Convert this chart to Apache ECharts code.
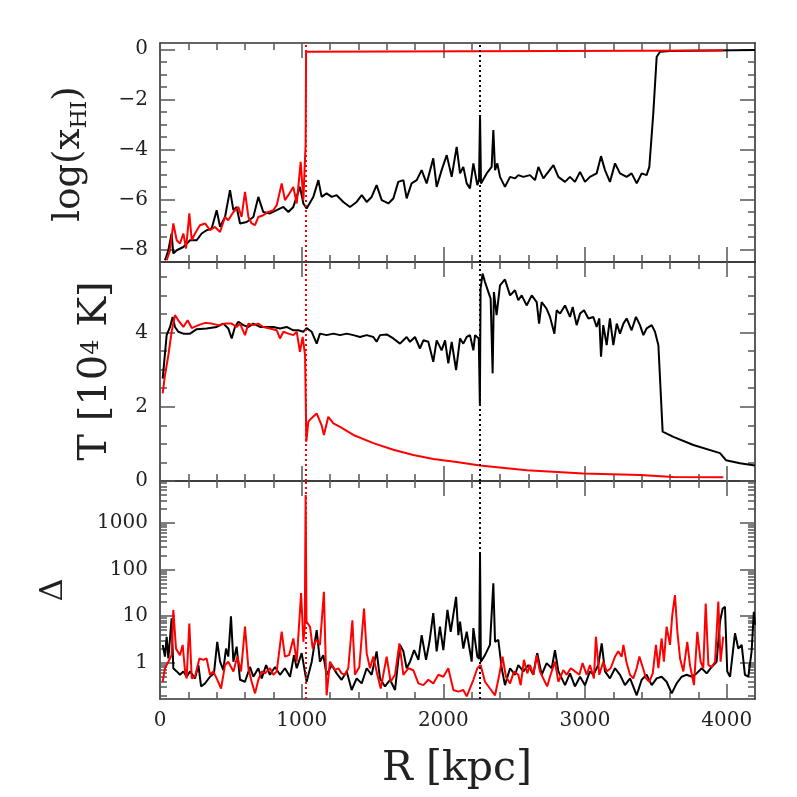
<!DOCTYPE html>
<html>
<head>
<meta charset="utf-8">
<script src="https://cdn.jsdelivr.net/npm/echarts@6.0.0/dist/echarts.min.js"></script>
<style>
html, body { margin: 0; padding: 0; background: #fff; }
#chart { width: 797px; height: 797px; }
</style>
</head>
<body>
<div id="chart"></div>
<script>
// 横轴 R [kpc]
const rRange = [0, 4200]
const rTicks = [0, 1000, 2000, 3000, 4000]
// 电离前沿位置 (虚线)
const redFront = 1030
const blackFront = 2260

// 上图 log(x_HI)
const xhiRange = [-8.5, 0.25]
const xhiTicks = [-8, -6, -4, -2, 0]
const xhiBlack = [
  [35,-8.43],[59,-8.03],[82,-7.36],[94,-8.16],[118,-8.03],[165,-7.9],[212,-7.63],[259,-7.63],[294,-7.36],[329,-7.23],
  [365,-7.16],[400,-6.43],[424,-7.09],[459,-6.7],[494,-5.63],[518,-6.43],[541,-6.3],[565,-6.96],[612,-6.9],[659,-6.7],
  [694,-5.9],[729,-6.5],[776,-6.56],[824,-6.43],[871,-6.3],[906,-6.5],[941,-6.3],[988,-5.5],[1012,-6.16],[1035,-6.36],
  [1082,-5.9],[1118,-5.23],[1141,-5.9],[1176,-5.76],[1212,-5.9],[1247,-5.83],[1294,-6.1],[1341,-6.3],[1388,-6.1],[1424,-5.83],
  [1459,-6.1],[1494,-5.9],[1529,-5.43],[1565,-6.03],[1612,-6.16],[1647,-5.96],[1682,-5.3],[1718,-5.23],[1741,-5.96],[1776,-5.36],
  [1812,-5.23],[1847,-4.83],[1882,-5.36],[1929,-4.36],[1953,-5.5],[1988,-4.83],[2024,-4.23],[2059,-5.1],[2094,-3.9],[2118,-4.96],
  [2141,-4.7],[2165,-5.36],[2188,-5.56],[2212,-4.56],[2240,-5.43],[2252,-5.2],[2259,-2.63],[2266,-5.36],[2306,-4.96],[2341,-4.7],
  [2353,-3.23],[2365,-4.83],[2381,-4.56],[2400,-5.1],[2435,-5.5],[2471,-5.1],[2506,-5.16],[2529,-5.03],[2565,-5.1],[2612,-5.03],
  [2647,-5.23],[2671,-4.7],[2706,-5.16],[2741,-4.9],[2777,-4.63],[2812,-5.1],[2859,-5.3],[2894,-5.1],[2929,-5.3],[2965,-4.9],
  [3000,-5.3],[3035,-5.1],[3082,-4.96],[3113,-4.27],[3141,-4.83],[3176,-5.3],[3212,-4.56],[3247,-4.96],[3294,-5.1],[3329,-4.96],
  [3365,-5.36],[3400,-4.96],[3435,-5.03],[3454,-4.7],[3482,-2.56],[3506,-0.3],[3530,-0.1],[3600,-0.07],[3900,-0.05],[4200,-0.03]
]
const xhiRed = [
  [47,-8.43],[71,-8.03],[94,-6.96],[118,-7.63],[141,-7.76],[165,-7.36],[184,-7.96],[207,-6.56],[224,-7.63],[247,-7.36],
  [282,-7.03],[318,-6.96],[353,-7.23],[388,-7.1],[424,-7.3],[459,-6.7],[482,-6.83],[518,-6.5],[553,-6.3],[576,-6.7],
  [600,-5.7],[624,-6.7],[647,-6.96],[671,-7.03],[694,-6.7],[729,-6.63],[765,-6.5],[800,-6.43],[824,-6.23],[859,-5.36],
  [882,-6.03],[906,-5.83],[941,-5.5],[965,-6.16],[993,-4.5],[1012,-6.03],[1022,-4.6],[1028,-3.8],[1031,-0.1],[1045,-0.06],
  [3976,-0.05]
]

// 中图 T [10^4 K]
const tempRange = [0, 5.9]
const tempTicks = [0, 2, 4]
const tempBlack = [
  [19,2.76],[47,3.93],[71,4.15],[89,4.42],[106,4.15],[129,4.02],[165,3.97],[212,3.97],[259,4.09],[329,4.11],
  [400,4.15],[447,4.24],[482,4.11],[506,3.84],[529,4.15],[553,4.29],[588,4.2],[624,4.15],[659,4.24],[706,4.15],
  [753,4.15],[800,4.15],[847,4.11],[894,4.15],[941,4.06],[976,4.06],[1012,4.02],[1035,4.12],[1071,4.02],[1106,3.7],
  [1129,3.97],[1176,3.93],[1224,3.97],[1271,3.93],[1318,3.97],[1365,3.93],[1412,3.88],[1459,3.93],[1506,3.88],[1529,3.75],
  [1553,3.93],[1600,3.95],[1647,3.84],[1694,3.7],[1741,3.88],[1765,3.75],[1800,3.88],[1835,3.57],[1859,3.79],[1894,3.75],
  [1929,3.21],[1953,3.79],[1988,3.52],[2012,3.79],[2035,3.17],[2059,3.75],[2090,2.99],[2118,3.84],[2141,3.7],[2165,3.88],
  [2188,3.93],[2212,3.52],[2224,3.93],[2250,3.84],[2258,2.04],[2263,5.18],[2277,5.59],[2294,5.36],[2318,5.09],[2334,4.91],
  [2348,2.9],[2357,5.09],[2376,4.47],[2400,5.27],[2435,5.43],[2471,5.0],[2506,5.14],[2529,4.87],[2553,5.0],[2588,4.73],
  [2624,5.0],[2659,4.82],[2676,4.24],[2694,4.82],[2729,4.64],[2753,4.42],[2784,3.97],[2800,4.6],[2824,4.51],[2859,4.73],
  [2894,4.42],[2913,4.69],[2941,4.2],[2965,4.51],[2993,4.6],[3024,4.38],[3059,4.42],[3082,4.15],[3101,4.38],[3113,3.35],
  [3129,4.2],[3153,3.66],[3176,4.38],[3200,3.66],[3224,4.24],[3247,3.97],[3271,4.24],[3294,4.38],[3329,4.06],[3360,4.42],
  [3388,4.2],[3412,3.93],[3435,4.11],[3471,4.2],[3494,4.02],[3518,3.66],[3548,1.33],[3624,1.19],[3765,0.97],[3953,0.75],
  [3995,0.56],[4094,0.48],[4200,0.42]
]
const tempRed = [
  [19,2.36],[35,2.85],[59,3.39],[82,4.02],[106,4.47],[129,4.33],[165,4.15],[195,4.33],[224,4.12],[271,4.2],
  [318,4.26],[365,4.24],[412,4.2],[459,4.24],[506,4.24],[541,4.15],[565,4.24],[600,3.93],[624,4.24],[659,4.2],
  [694,4.24],[729,4.15],[776,4.11],[824,4.06],[847,3.84],[871,4.02],[906,3.97],[941,3.93],[965,4.02],[988,3.48],
  [1007,3.88],[1024,3.39],[1033,1.06],[1047,1.6],[1071,1.7],[1106,1.82],[1141,1.5],[1157,1.24],[1188,1.73],[1224,1.55],
  [1271,1.46],[1365,1.24],[1506,1.02],[1647,0.84],[1788,0.7],[1929,0.59],[2094,0.51],[2259,0.42],[2588,0.29],[2988,0.2],
  [3388,0.16],[3624,0.11],[3976,0.1]
]

// 下图 Δ (对数坐标)
const deltaRange = [0.1667, 7800]
const deltaTicks = [1, 10, 100, 1000]
const deltaBlack = [
  [19,2.4],[35,1.35],[47,3.6],[59,1.23],[82,8.9],[94,0.76],[118,0.65],[141,0.55],[165,0.65],[188,0.5],
  [212,0.65],[247,0.46],[271,0.89],[290,0.31],[318,0.36],[353,0.5],[381,0.59],[404,2.8],[424,1.05],[447,0.69],
  [466,2.0],[482,1.35],[501,9.8],[518,1.05],[541,2.2],[565,0.43],[600,0.39],[635,0.81],[659,0.5],[694,0.76],
  [718,0.46],[749,0.89],[776,0.55],[812,0.81],[847,0.55],[882,0.76],[918,0.5],[946,1.45],[965,0.76],[1000,1.6],
  [1035,0.39],[1071,1.05],[1106,5.0],[1129,1.05],[1153,1.45],[1176,0.55],[1212,0.89],[1247,0.59],[1282,0.43],[1318,0.65],
  [1353,0.26],[1388,0.46],[1424,0.36],[1459,0.76],[1494,0.55],[1529,1.75],[1553,0.46],[1588,0.31],[1624,0.43],[1659,0.26],
  [1694,2.4],[1718,1.75],[1741,0.76],[1765,1.05],[1794,1.85],[1824,1.15],[1847,3.9],[1878,1.15],[1902,2.8],[1929,11.5],
  [1953,1.75],[1976,5.9],[2000,1.85],[2029,13.5],[2052,4.6],[2090,25.7],[2106,3.9],[2118,7.6],[2141,2.0],[2165,4.6],
  [2200,1.05],[2212,5.5],[2240,1.35],[2253,1.2],[2259,219],[2265,1.05],[2294,1.45],[2329,2.4],[2353,50],[2365,2.8],
  [2388,3.1],[2412,0.76],[2435,0.33],[2471,0.76],[2506,0.55],[2529,0.89],[2565,0.65],[2600,0.89],[2635,0.55],[2663,1.6],
  [2694,0.55],[2729,0.98],[2765,0.76],[2788,1.85],[2812,0.65],[2859,0.33],[2894,0.59],[2929,0.31],[2965,0.5],[3000,0.33],
  [3035,0.65],[3059,0.55],[3094,0.89],[3118,2.6],[3141,0.65],[3176,0.46],[3212,0.76],[3247,0.55],[3282,0.33],[3318,0.46],
  [3365,0.2],[3400,0.43],[3435,0.55],[3471,0.33],[3506,0.46],[3541,0.5],[3576,0.39],[3612,0.22],[3647,0.36],[3682,0.5],
  [3718,0.55],[3753,0.5],[3788,0.59],[3824,0.76],[3859,0.59],[3894,0.81],[3929,1.05],[3953,7.6],[3972,14.5],[3988,15.8],
  [4004,0.65],[4024,0.5],[4059,4.3],[4082,2.0],[4106,2.4],[4129,0.55],[4153,0.5],[4176,1.75],[4192,12.3],[4200,6.5]
]
const deltaRed = [
  [19,0.39],[35,0.76],[59,1.05],[82,1.45],[94,13.5],[113,2.0],[141,1.45],[160,2.4],[177,0.65],[188,0.46],
  [207,6.9],[224,0.46],[247,0.5],[278,1.23],[306,1.15],[329,1.23],[353,0.55],[376,0.65],[400,0.46],[431,0.28],
  [459,0.89],[482,1.05],[518,0.65],[546,1.35],[572,0.65],[600,5.9],[624,0.76],[647,0.39],[671,0.22],[694,0.43],
  [718,0.65],[741,0.59],[776,0.76],[800,0.55],[824,0.65],[859,4.6],[882,1.35],[911,1.45],[941,3.3],[965,1.05],
  [996,31],[1012,2.8],[1022,6.0],[1028,3900],[1034,7.6],[1059,5.9],[1078,2.0],[1101,3.1],[1129,2.4],[1157,33],
  [1176,0.2],[1200,1.05],[1235,0.69],[1259,0.76],[1282,0.59],[1306,0.55],[1329,0.76],[1358,8.1],[1376,0.55],[1407,0.81],
  [1440,14.5],[1459,1.6],[1482,0.76],[1506,1.35],[1534,0.55],[1558,0.28],[1600,1.35],[1628,0.39],[1659,0.55],[1690,2.6],
  [1718,0.55],[1753,0.76],[1788,0.69],[1824,0.36],[1859,0.33],[1894,0.43],[1929,0.36],[1965,0.55],[2000,0.5],[2035,0.76],
  [2071,0.26],[2106,0.24],[2141,0.26],[2165,0.19],[2188,0.28],[2212,0.43],[2240,0.76],[2263,0.89],[2294,0.39],[2329,0.28],
  [2365,0.2],[2395,0.55],[2418,1.35],[2442,0.5],[2471,0.36],[2499,0.65],[2529,0.55],[2546,0.33],[2569,1.15],[2593,0.59],
  [2612,0.89],[2635,0.55],[2659,1.45],[2682,0.65],[2710,0.43],[2733,0.31],[2757,0.55],[2788,1.05],[2812,0.39],[2847,0.69],
  [2871,0.55],[2899,0.76],[2929,0.65],[2960,0.55],[2983,0.98],[3012,0.55],[3035,0.89],[3063,0.46],[3077,3.6],[3101,0.55],
  [3129,1.05],[3153,0.65],[3181,0.76],[3212,1.35],[3235,1.75],[3259,1.35],[3271,2.4],[3294,0.98],[3318,0.55],[3341,0.46],
  [3365,0.76],[3384,1.35],[3407,0.81],[3431,0.46],[3454,0.39],[3478,0.59],[3501,2.4],[3518,0.76],[3541,3.3],[3557,1.05],
  [3576,5.9],[3600,2.4],[3616,10.5],[3635,28],[3652,4.6],[3671,1.23],[3694,0.65],[3722,2.8],[3741,0.89],[3769,0.33],
  [3793,4.6],[3816,1.05],[3835,0.76],[3852,18.6],[3871,0.89],[3894,0.81],[3918,1.05],[3941,20.4],[3957,1.05],[3976,3.6]
]

const FONT = 'DejaVu Serif'
const frameStyle = { color: '#333', width: 1.6 }
const tickStyle = { color: '#555', width: 1.5 }
const labelStyle = { fontFamily: FONT, fontSize: 20, color: '#222' }

function minorTicks(lo, hi, step, majorStep) {   //次刻度, 不含主刻度和边界
    let arr = []
    for (let v = Math.ceil(lo / step) * step; v < hi - 1e-9; v += step) {
        const r = Math.round(v * 1000) / 1000
        if (r <= lo + 1e-9) continue
        if (Math.abs(r / majorStep - Math.round(r / majorStep)) < 1e-6) continue
        arr.push(r)
    }
    return arr
}
const lgMin = Math.log10(deltaRange[0]), lgMax = Math.log10(deltaRange[1])
const lgMajor = deltaTicks.map(v => Math.log10(v))
let lgMinor = []
for (let d = -1; d <= 3; d++) {
    for (let k = 2; k <= 9; k++) {
        const v = Math.log10(k * Math.pow(10, d))
        if (v > lgMin && v < lgMax) lgMinor.push(v)
    }
}

const panels = [
    { top: 43, height: 219, range: xhiRange, major: xhiTicks, minor: minorTicks(xhiRange[0], xhiRange[1], 0.5, 2),
      fmt: v => (v < 0 ? '\u2212' + (-v) : String(v)) },
    { top: 262, height: 219, range: tempRange, major: tempTicks, minor: minorTicks(tempRange[0], tempRange[1], 0.5, 2),
      fmt: v => String(v) },
    { top: 481, height: 218, range: [lgMin, lgMax], major: lgMajor, minor: lgMinor,
      fmt: v => String(Math.round(Math.pow(10, v))) }
]
const rMinor = minorTicks(rRange[0], rRange[1], 200, 1000)

let grid = [], xAxis = [], yAxis = []
panels.forEach((p, g) => {
    grid.push({ left: 160, width: 595, top: p.top, height: p.height })
    const xb = { type: 'value', gridIndex: g, min: rRange[0], max: rRange[1], splitLine: { show: false } }
    const yb = { type: 'value', gridIndex: g, min: p.range[0], max: p.range[1], splitLine: { show: false } }
    const last = g === panels.length - 1
    ;['bottom', 'top'].forEach(pos => {
        xAxis.push(Object.assign({}, xb, {
            position: pos,
            axisLine: { show: true, onZero: false, lineStyle: frameStyle },
            axisTick: { show: true, inside: true, length: 15, customValues: rTicks, lineStyle: tickStyle },
            axisLabel: Object.assign({ show: last && pos === 'bottom', customValues: rTicks, margin: 12,
                formatter: v => String(v) }, labelStyle)
        }))
        xAxis.push(Object.assign({}, xb, {
            position: pos,
            axisLine: { show: false, onZero: false },
            axisTick: { show: true, inside: true, length: 7, customValues: rMinor, lineStyle: tickStyle },
            axisLabel: { show: false }
        }))
    })
    ;['left', 'right'].forEach(pos => {
        yAxis.push(Object.assign({}, yb, {
            position: pos,
            axisLine: { show: true, onZero: false, lineStyle: frameStyle },
            axisTick: { show: true, inside: true, length: 15, customValues: p.major, lineStyle: tickStyle },
            axisLabel: Object.assign({ show: pos === 'left', customValues: p.major, margin: 12,
                formatter: p.fmt }, labelStyle)
        }))
        yAxis.push(Object.assign({}, yb, {
            position: pos,
            axisLine: { show: false, onZero: false },
            axisTick: { show: true, inside: true, length: 7, customValues: p.minor, lineStyle: tickStyle },
            axisLabel: { show: false }
        }))
    })
})

function line(data, color, g, withFronts) {
    let s = {
        type: 'line', xAxisIndex: 4 * g, yAxisIndex: 4 * g, data: data,
        symbol: 'none', showSymbol: false, clip: true,
        lineStyle: { color: color, width: 2 }, z: color === '#000' ? 2 : 3
    }
    if (withFronts) {
        s.markLine = {
            silent: true, symbol: ['none', 'none'], label: { show: false },
            lineStyle: { type: [2, 3], width: 2 },
            data: [
                { xAxis: redFront, lineStyle: { color: '#ff0000', type: [2, 3], width: 2 } },
                { xAxis: blackFront, lineStyle: { color: '#000', type: [2, 3], width: 2 } }
            ]
        }
    }
    return s
}
const toLog = arr => arr.map(p => [p[0], Math.log10(p[1])])

const series = [
    line(xhiBlack, '#000', 0, false), line(xhiRed, '#ff0000', 0, true),
    line(tempBlack, '#000', 1, false), line(tempRed, '#ff0000', 1, true),
    line(toLog(deltaBlack), '#000', 2, false), line(toLog(deltaRed), '#ff0000', 2, true)
]

const titleFont = { fontFamily: FONT, fill: '#222', color: '#222' }
const graphic = [
    { type: 'text', x: 69, y: 154, rotation: Math.PI / 2, z: 10,
      style: { text: '{m|log(x}{s|HI}{m|)}', align: 'center', verticalAlign: 'middle',
        rich: {
            m: Object.assign({ fontSize: 37, lineHeight: 40 }, titleFont),
            s: Object.assign({ fontSize: 22, lineHeight: 22, padding: [20, 0, 0, 0], verticalAlign: 'top' }, titleFont)
        } } },
    { type: 'text', x: 96, y: 371, rotation: Math.PI / 2, z: 10,
      style: { text: '{m|T [10}{p|4}{m| K]}', align: 'center', verticalAlign: 'middle',
        rich: {
            m: Object.assign({ fontSize: 40, lineHeight: 40 }, titleFont),
            p: Object.assign({ fontSize: 24, lineHeight: 24, padding: [4, 0, 0, 0], verticalAlign: 'top' }, titleFont)
        } } },
    { type: 'text', x: 54, y: 590, rotation: Math.PI / 2, z: 10,
      style: Object.assign({ text: '\u0394', fontSize: 32, align: 'center', verticalAlign: 'middle' }, titleFont) },
    { type: 'text', x: 457, y: 769, z: 10,
      style: Object.assign({ text: 'R [kpc]', fontSize: 41, align: 'center', verticalAlign: 'middle' }, titleFont) }
]

const chart = echarts.init(document.getElementById('chart'), null, { renderer: 'canvas', width: 797, height: 797 })
chart.setOption({
    animation: false,
    backgroundColor: '#fff',
    grid: grid,
    xAxis: xAxis,
    yAxis: yAxis,
    series: series,
    graphic: graphic
})
</script>
</body>
</html>
